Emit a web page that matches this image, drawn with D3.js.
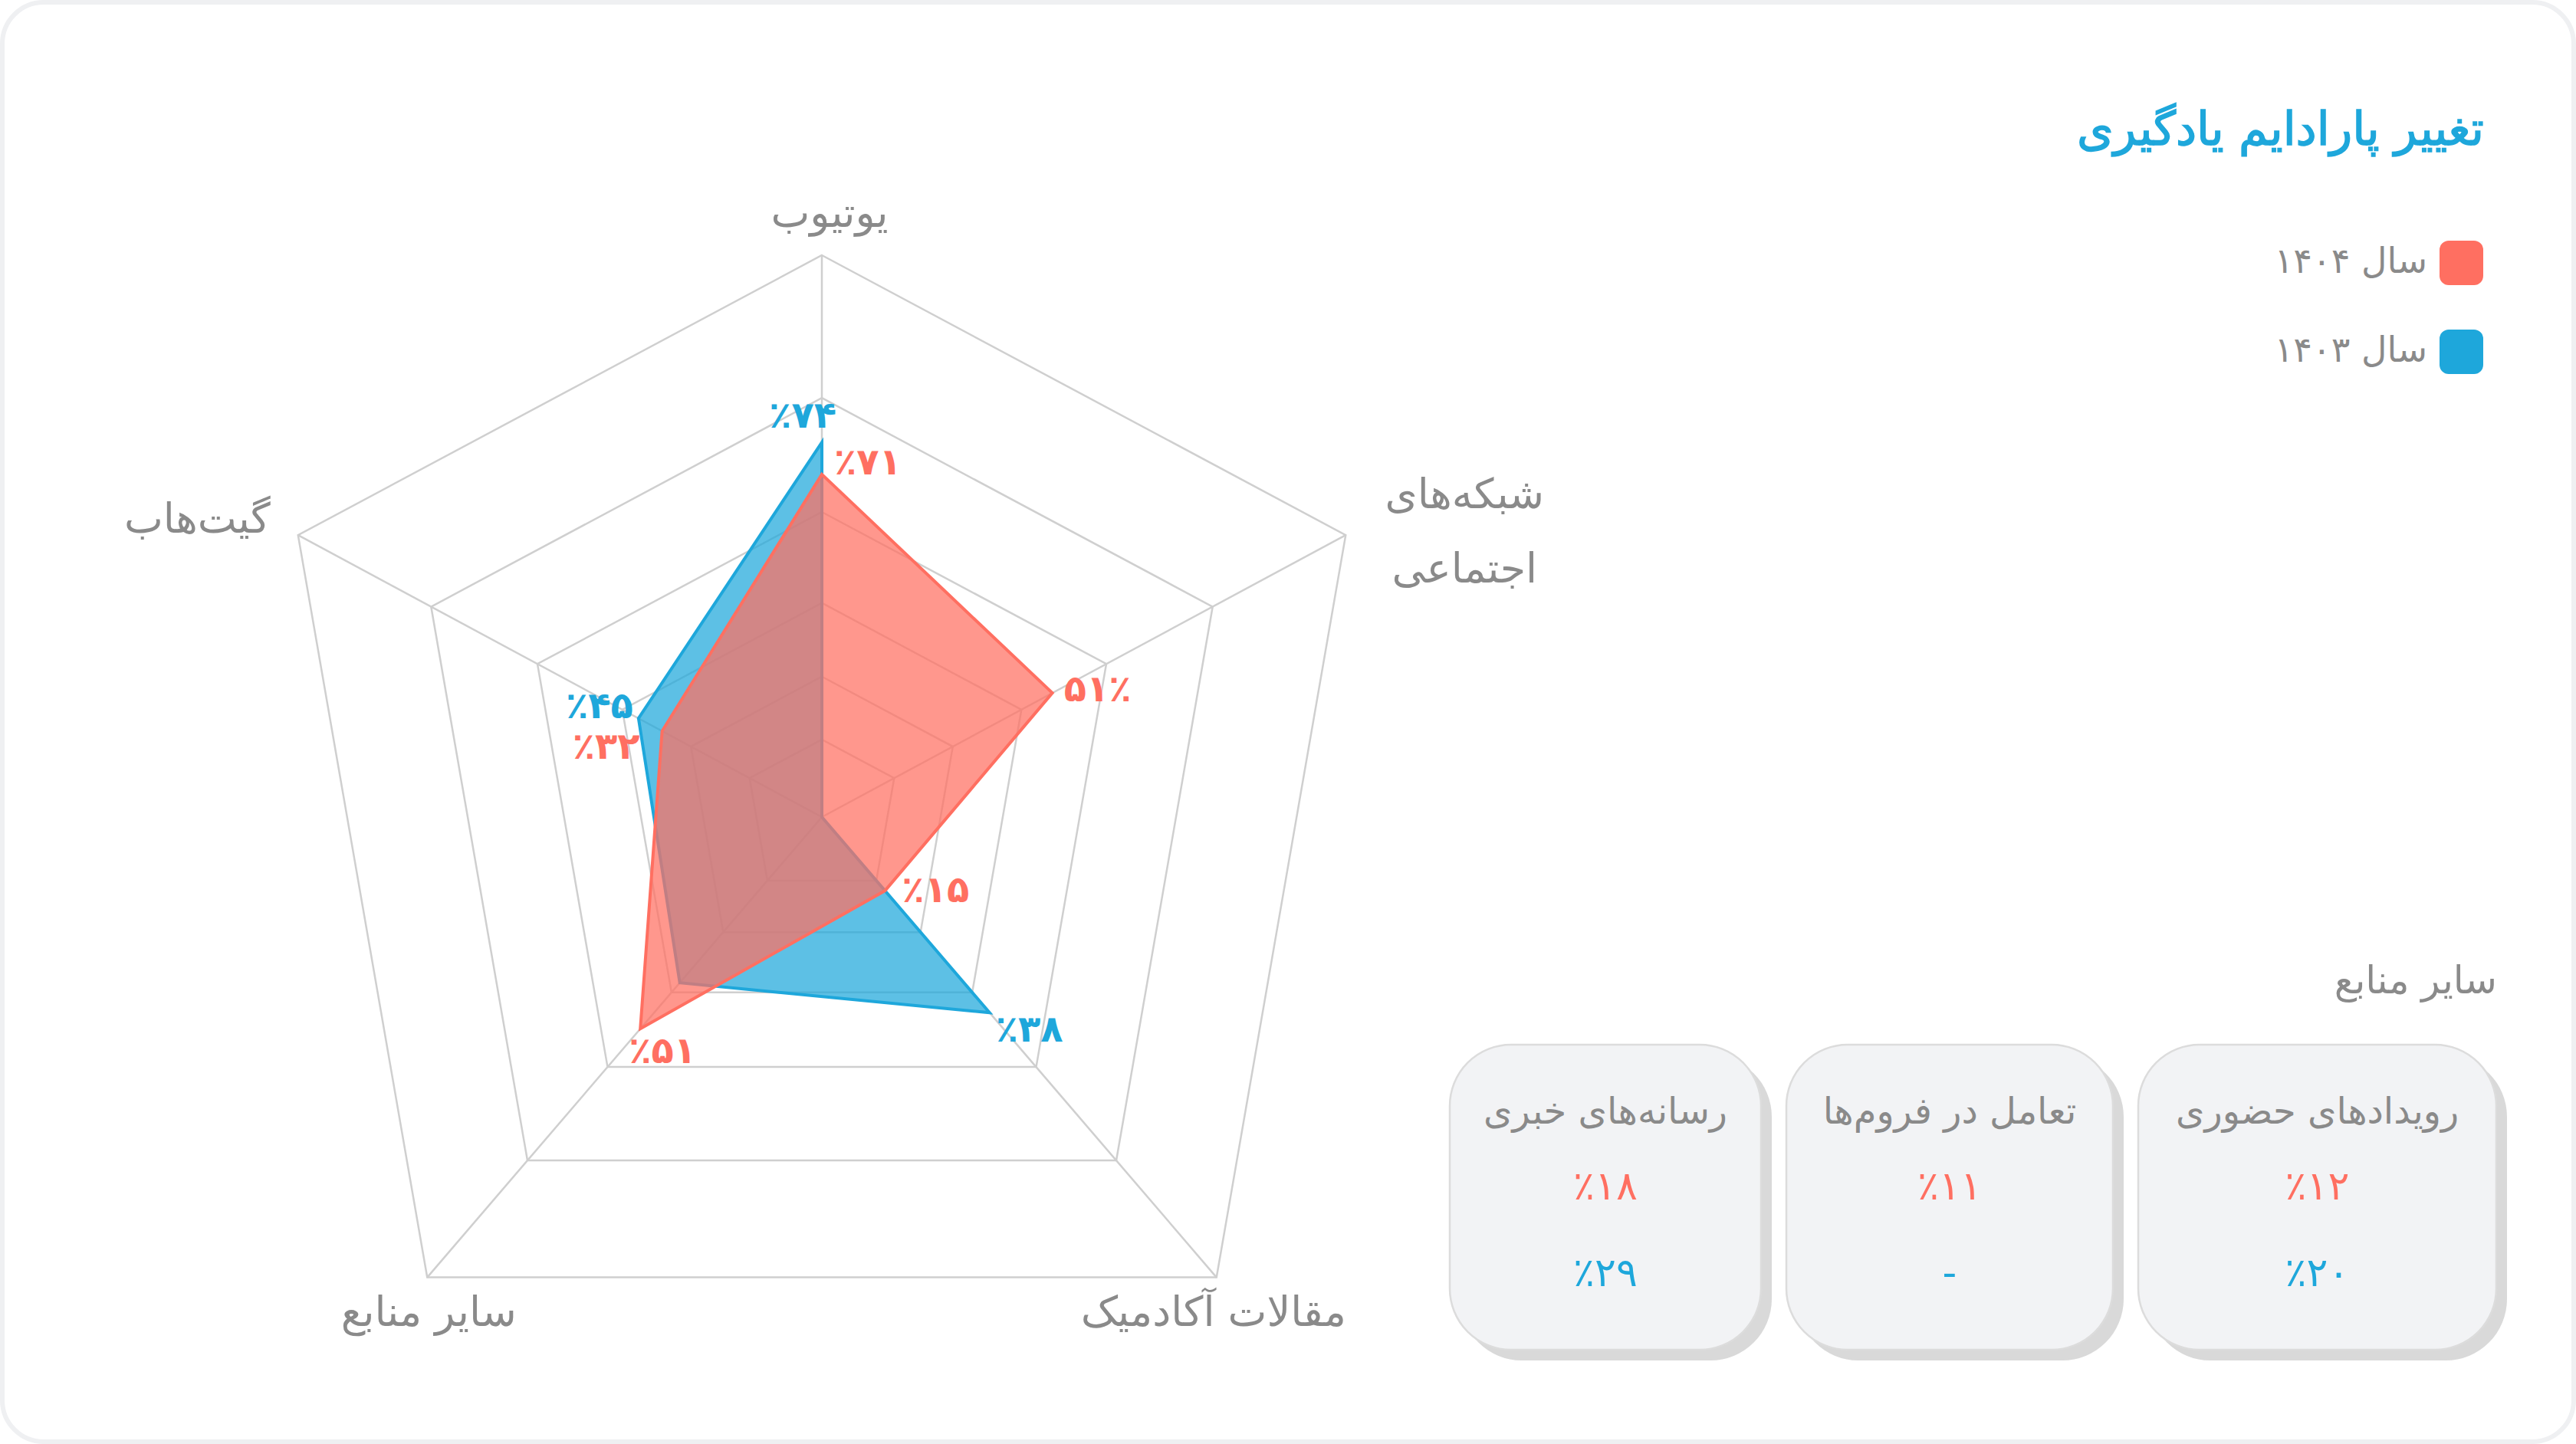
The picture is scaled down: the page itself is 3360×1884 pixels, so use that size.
<!DOCTYPE html>
<html lang="fa">
<head>
<meta charset="utf-8">
<script src="https://cdn.jsdelivr.net/npm/d3@7"></script>
<style>
  html, body { margin: 0; padding: 0; background: #ffffff; }
  svg { display: block; }
  text { font-family: "DejaVu Sans", "Noto Sans", sans-serif; }
</style>
</head>
<body>
<div id="chart"></div>
<script>
// ---------- DATA ----------
const title = "تغییر پارادایم یادگیری";
const categories = ["یوتیوب", "شبکه‌های اجتماعی", "مقالات آکادمیک", "سایر منابع", "گیت‌هاب"];
const categoryLines = [["یوتیوب"], ["شبکه‌های", "اجتماعی"], ["مقالات آکادمیک"], ["سایر منابع"], ["گیت‌هاب"]];
const seriesNames = ["سال ۱۴۰۴", "سال ۱۴۰۳"];
// radial positions as drawn on the chart's radial scale (0-100)
const values1404 = [61, 44, 16, 46, 30.5];
const values1403 = [66.7, 0, 42.5, 36, 35];
// printed value labels
const labels1404 = [71, 51, 15, 51, 32];
const labels1403 = [74, null, 38, null, 45];
const ringLevels = [13.8, 25, 38.1, 54.3, 74.6, 100];

const otherTitle = "سایر منابع";
const otherCategories = ["رویدادهای حضوری", "تعامل در فروم‌ها", "رسانه‌های خبری"];
const other1404 = [12, 11, 18];
const other1403 = [20, null, 29];

// ---------- LAYOUT ----------
const W = 3360, H = 1884;
const C = { red: "#FF6F61", blue: "#1EA7DB", gray: "#8a8a8a", grid: "#cfcfcf" };
const center = [1072, 1066];
const axisAngles = [-90, -28.3, 49.4, 130.6, 208.3];
const axisRadius = [733, 776, 791, 791, 776];
// value label offsets [dx, dy, anchor]
const off1404 = [[16, -13, "start"], [15, -2, "start"], [22, 2, "start"], [-15, 32, "start"], [-29, 23, "end"]];
const off1403 = [[19, -32, "end"], null, [8, 25, "start"], null, [-7, -13, "end"]];

const fa = v => String(v).replace(/\d/g, c => "۰۱۲۳۴۵۶۷۸۹"[c]);

const svg = d3.select("#chart").append("svg")
  .attr("width", W).attr("height", H).attr("viewBox", `0 0 ${W} ${H}`);

svg.append("rect").attr("x", 3).attr("y", 3).attr("width", W - 6).attr("height", H - 6)
  .attr("rx", 54).attr("fill", "#fff").attr("stroke", "#eff0f2").attr("stroke-width", 6);

const rScales = axisRadius.map(R => d3.scaleLinear().domain([0, 100]).range([0, R]));
const angle = d3.scaleOrdinal().domain(d3.range(categories.length)).range(axisAngles.map(a => a * Math.PI / 180));
const pt = (i, v) => {
  const r = rScales[i](v), a = angle(i);
  return [center[0] + r * Math.cos(a), center[1] + r * Math.sin(a)];
};

const g = svg.append("g");
// rings
ringLevels.forEach(lv => {
  g.append("path")
    .attr("d", d3.line()(categories.map((c, i) => pt(i, lv))) + "Z")
    .attr("fill", "none").attr("stroke", C.grid).attr("stroke-width", 2.5);
});
// spokes
categories.forEach((c, i) => {
  g.append("line").attr("x1", center[0]).attr("y1", center[1])
    .attr("x2", pt(i, 100)[0]).attr("y2", pt(i, 100)[1])
    .attr("stroke", C.grid).attr("stroke-width", 2.5);
});

// series polygons (blue first, red on top)
[[values1403, C.blue], [values1404, C.red]].forEach(([vals, col]) => {
  g.append("path")
    .attr("d", d3.line()(vals.map((v, i) => pt(i, v))) + "Z")
    .attr("fill", col).attr("fill-opacity", 0.72)
    .attr("stroke", col).attr("stroke-width", 4).attr("stroke-linejoin", "miter");
});

// value labels
[[values1404, labels1404, off1404, C.red], [values1403, labels1403, off1403, C.blue]].forEach(([vals, labs, offs, col]) => {
  labs.forEach((l, i) => {
    if (l == null) return;
    const p = pt(i, vals[i]);
    const txt = i === 1 ? fa(l) + "٪" : "٪" + fa(l);
    g.append("text").attr("x", p[0] + offs[i][0]).attr("y", p[1] + offs[i][1])
      .attr("text-anchor", offs[i][2]).attr("fill", col).attr("font-weight", "bold")
      .attr("font-size", 48).attr("dominant-baseline", "middle").text(txt);
  });
});

// axis labels
const axisLab = [
  { dx: 10, dy: -52, anchor: "middle" },
  { dx: 155, dy: -50, anchor: "middle" },
  { dx: -4, dy: 48, anchor: "middle" },
  { dx: 2, dy: 48, anchor: "middle" },
  { dx: -36, dy: -18, anchor: "start" }
];
categoryLines.forEach((lines, i) => {
  const p = pt(i, 100);
  const t = g.append("text").attr("x", p[0] + axisLab[i].dx).attr("y", p[1] + axisLab[i].dy)
    .attr("text-anchor", axisLab[i].anchor).attr("fill", C.gray).attr("font-size", 54)
    .attr("dominant-baseline", "middle").style("direction", "rtl");
  lines.forEach((ln, k) => {
    t.append("tspan").attr("x", p[0] + axisLab[i].dx).attr("dy", k === 0 ? 0 : 97).text(ln);
  });
});

// title
svg.append("text").attr("x", 3240).attr("y", 172).attr("text-anchor", "start")
  .style("direction", "rtl").attr("dominant-baseline", "middle")
  .attr("fill", C.blue).attr("stroke", C.blue).attr("stroke-width", 1.5)
  .attr("font-size", 61).text(title);

// legend
const legend = svg.append("g");
[[seriesNames[0], C.red, 343], [seriesNames[1], C.blue, 459]].forEach(([name, col, y]) => {
  legend.append("rect").attr("x", 3182).attr("y", y - 29).attr("width", 57).attr("height", 58)
    .attr("rx", 12).attr("fill", col);
  legend.append("text").attr("x", 3166).attr("y", y).attr("text-anchor", "start")
    .style("direction", "rtl").attr("dominant-baseline", "middle")
    .attr("fill", C.gray).attr("font-size", 46).text(name);
});

// other sources
svg.append("text").attr("x", 3257).attr("y", 1282).attr("text-anchor", "start")
  .style("direction", "rtl").attr("dominant-baseline", "middle")
  .attr("fill", C.gray).attr("font-size", 50).text(otherTitle);

const boxW = [467, 426, 406], gap = 33, boxTop = 1363, boxH = 398;
let right = 3256;
otherCategories.forEach((cat, i) => {
  const x = right - boxW[i];
  const cx = x + boxW[i] / 2;
  svg.append("rect").attr("x", x + 14).attr("y", boxTop + 14).attr("width", boxW[i]).attr("height", boxH)
    .attr("rx", 80).attr("fill", "#d9d9d9");
  svg.append("rect").attr("x", x).attr("y", boxTop).attr("width", boxW[i]).attr("height", boxH)
    .attr("rx", 80).attr("fill", "#f2f3f5").attr("stroke", "#dcdcdc").attr("stroke-width", 2.5);
  svg.append("text").attr("x", cx).attr("y", 1453).attr("text-anchor", "middle")
    .style("direction", "rtl").attr("dominant-baseline", "middle")
    .attr("fill", C.gray).attr("font-size", 48).text(cat);
  svg.append("text").attr("x", cx).attr("y", 1551).attr("text-anchor", "middle")
    .attr("dominant-baseline", "middle").attr("fill", C.red).attr("font-size", 52)
    .text(other1404[i] == null ? "-" : "٪" + fa(other1404[i]));
  svg.append("text").attr("x", cx).attr("y", 1664).attr("text-anchor", "middle")
    .attr("dominant-baseline", "middle").attr("fill", C.blue).attr("font-size", 52)
    .text(other1403[i] == null ? "-" : "٪" + fa(other1403[i]));
  right = x - gap;
});
</script>
</body>
</html>
